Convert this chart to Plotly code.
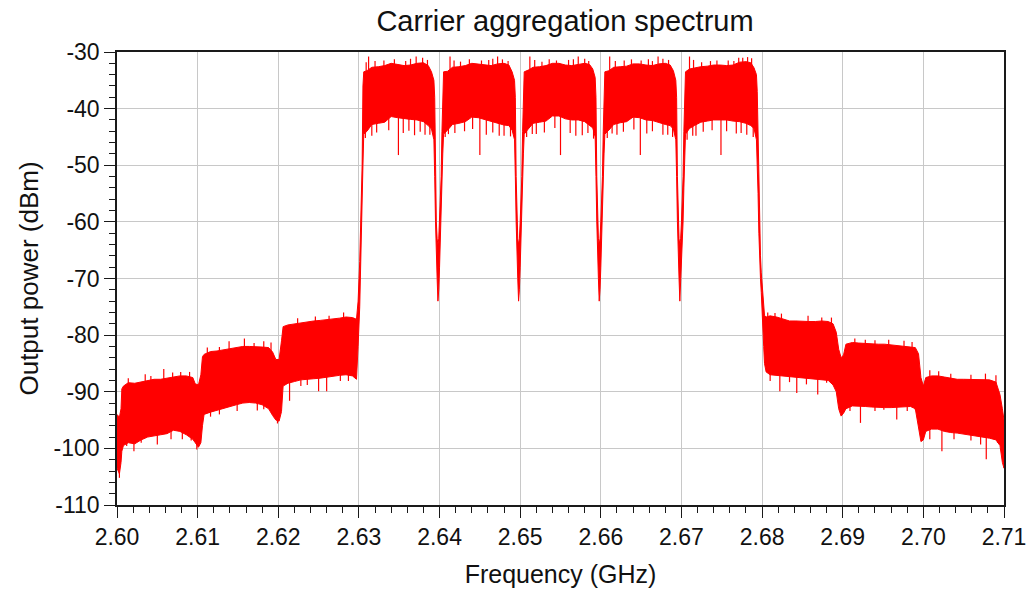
import numpy as np
import plotly.graph_objects as go

# Spectrum envelope: upper (peak) and lower (floor) trace level per frequency knot
freq_ghz = [
    # 2.60 - 2.61 adjacent band
    2.6000, 2.6003, 2.6005, 2.6006, 2.6008, 2.6014, 2.6022, 2.6030, 2.6038, 2.6046, 2.6054,
    2.6062, 2.6070, 2.6078, 2.6086, 2.6094, 2.6097, 2.6101, 2.6104, 2.6106, 2.6108,
    # 2.61 - 2.62
    2.6116, 2.6124, 2.6132, 2.6140, 2.6148, 2.6156, 2.6164, 2.6172, 2.6180, 2.6188,
    2.6193, 2.6197, 2.6201, 2.6204, 2.6206,
    # 2.62 - 2.63 and rising edge
    2.6212, 2.6220, 2.6228, 2.6236, 2.6244, 2.6252, 2.6260, 2.6268, 2.6276, 2.6284,
    2.6292, 2.6297, 2.6299, 2.6301, 2.6303, 2.6304, 2.6305, 2.6306,
    # carrier 1
    2.6310, 2.6316, 2.6324, 2.6332, 2.6340, 2.6348, 2.6356, 2.6364, 2.6372, 2.6380,
    2.6386, 2.6390, 2.6393,
    2.6394, 2.6395, 2.6396, 2.6397, 2.6398, 2.6399, 2.6400, 2.6401, 2.6402, 2.6403, 2.6404, 2.6405,
    # carrier 2
    2.6410, 2.6416, 2.6424, 2.6432, 2.6440, 2.6448, 2.6456, 2.6464, 2.6472, 2.6480,
    2.6486, 2.6490, 2.6493,
    2.6494, 2.6495, 2.6496, 2.6497, 2.6498, 2.6499, 2.6500, 2.6501, 2.6502, 2.6503, 2.6504, 2.6505,
    # carrier 3
    2.6510, 2.6516, 2.6524, 2.6532, 2.6540, 2.6548, 2.6556, 2.6564, 2.6572, 2.6580,
    2.6586, 2.6590, 2.6593,
    2.6594, 2.6595, 2.6596, 2.6597, 2.6598, 2.6599, 2.6600, 2.6601, 2.6602, 2.6603, 2.6604, 2.6605,
    # carrier 4
    2.6610, 2.6616, 2.6624, 2.6632, 2.6640, 2.6648, 2.6656, 2.6664, 2.6672, 2.6680,
    2.6686, 2.6690, 2.6693,
    2.6694, 2.6695, 2.6696, 2.6697, 2.6698, 2.6699, 2.6700, 2.6701, 2.6702, 2.6703, 2.6704, 2.6705,
    # carrier 5 and falling edge
    2.6710, 2.6716, 2.6724, 2.6732, 2.6740, 2.6748, 2.6756, 2.6764, 2.6772, 2.6780,
    2.6786, 2.6790, 2.6793,
    2.6794, 2.6795, 2.6796, 2.6797, 2.6798, 2.6799, 2.6800, 2.6801, 2.6802, 2.6803, 2.6805,
    # 2.68 - 2.69
    2.6810, 2.6818, 2.6826, 2.6834, 2.6842, 2.6850, 2.6858, 2.6866, 2.6874, 2.6882,
    2.6888, 2.6892, 2.6895, 2.6898, 2.6901, 2.6904,
    # 2.69 - 2.70
    2.6912, 2.6920, 2.6928, 2.6936, 2.6944, 2.6952, 2.6960, 2.6968, 2.6976, 2.6984,
    2.6990, 2.6994, 2.6997, 2.7000, 2.7003,
    # 2.70 - 2.71
    2.7010, 2.7018, 2.7026, 2.7034, 2.7042, 2.7050, 2.7058, 2.7066, 2.7074, 2.7082,
    2.7090, 2.7095, 2.7098, 2.7100,
]

peak_dbm = [
    -94.0, -94.5, -93.0, -89.5, -89.0, -88.4, -88.5, -88.3, -88.0, -87.8, -87.8,
    -87.6, -87.3, -87.2, -87.2, -87.5, -88.6, -88.8, -87.0, -83.8, -83.4,
    -82.9, -82.8, -82.6, -82.4, -82.2, -82.0, -82.0, -82.0, -82.1, -82.2,
    -83.0, -84.3, -84.3, -81.0, -78.5,
    -78.2, -78.0, -77.8, -77.6, -77.5, -77.4, -77.3, -77.2, -77.0, -76.8,
    -76.9, -77.2, -74.0, -67.0, -58.0, -50.0, -36.0, -33.5,
    -33.3, -32.7, -32.6, -32.4, -32.0, -32.2, -32.4, -32.3, -32.0, -31.9,
    -32.4, -33.5, -35.0,
    -38.0, -52.0, -60.0, -63.0, -64.0, -63.0, -60.0, -57.0, -52.0, -44.0, -36.0, -33.5,
    -33.4, -32.7, -32.6, -32.4, -32.0, -32.1, -32.3, -32.4, -32.1, -32.0,
    -32.3, -33.5, -35.0,
    -38.0, -52.0, -60.0, -63.0, -64.0, -63.0, -60.0, -57.0, -52.0, -44.0, -36.0, -33.5,
    -33.2, -32.7, -32.6, -32.4, -32.0, -32.0, -32.3, -32.4, -32.2, -32.0,
    -32.2, -33.0, -34.5,
    -38.0, -52.0, -60.0, -63.0, -64.0, -63.0, -60.0, -57.0, -52.0, -44.0, -36.0, -33.5,
    -33.3, -32.7, -32.6, -32.5, -32.1, -32.1, -32.3, -32.4, -32.1, -32.0,
    -32.3, -33.3, -35.0,
    -38.0, -52.0, -60.0, -63.0, -64.0, -63.0, -60.0, -57.0, -52.0, -44.0, -36.0, -33.5,
    -33.0, -32.8, -32.6, -32.5, -32.3, -32.3, -32.4, -32.3, -31.8, -31.7,
    -31.9, -32.8, -34.0,
    -37.0, -45.0, -55.0, -62.0, -66.0, -69.0, -71.0, -73.5, -75.5, -76.5, -76.8,
    -76.6, -76.8, -77.2, -77.5, -77.5, -77.6, -77.6, -77.6, -77.5, -77.6,
    -78.0, -79.5, -82.5, -84.0, -83.5, -81.6,
    -81.3, -81.4, -81.5, -81.6, -81.6, -81.6, -81.7, -81.8, -81.9, -82.0,
    -82.2, -83.3, -87.5, -89.0, -87.5,
    -87.2, -87.2, -87.4, -87.6, -87.8, -87.8, -87.8, -87.8, -87.8, -87.9,
    -88.3, -90.5, -93.0, -95.0,
]

floor_dbm = [
    -103.5, -104.5, -102.5, -100.5, -99.5, -99.0, -99.2, -98.5, -98.0, -97.8, -97.6,
    -97.4, -96.8, -97.0, -97.6, -98.4, -99.0, -99.8, -99.0, -96.0, -94.0,
    -93.6, -93.2, -92.9, -92.6, -92.3, -92.0, -91.9, -92.0, -92.3, -93.0,
    -94.2, -95.0, -95.2, -93.5, -89.0,
    -88.5, -88.2, -87.9, -87.8, -87.7, -87.6, -87.4, -87.3, -87.1, -87.0,
    -87.2, -87.8, -82.0, -75.0, -64.0, -57.0, -50.0, -44.5,
    -44.0, -42.8, -42.6, -42.4, -41.4, -41.6, -41.8, -41.9, -42.0, -42.3,
    -43.0, -43.6, -45.5,
    -52.0, -60.0, -66.0, -70.0, -74.0, -72.0, -68.0, -64.0, -60.0, -54.0, -48.0, -44.5,
    -43.8, -42.8, -42.6, -42.3, -41.5, -41.6, -42.0, -42.2, -42.6, -42.9,
    -43.0, -43.8, -45.5,
    -52.0, -60.0, -66.0, -70.0, -74.0, -72.0, -68.0, -64.0, -60.0, -54.0, -48.0, -44.5,
    -43.6, -42.6, -42.4, -42.2, -41.3, -41.3, -41.8, -42.0, -42.0, -42.3,
    -43.0, -43.4, -45.0,
    -52.0, -60.0, -66.0, -70.0, -74.0, -72.0, -68.0, -64.0, -60.0, -54.0, -48.0, -44.5,
    -43.8, -42.8, -42.5, -42.3, -41.5, -41.6, -42.0, -42.1, -42.5, -42.8,
    -43.0, -43.6, -45.5,
    -52.0, -60.0, -66.0, -70.0, -74.0, -72.0, -68.0, -64.0, -60.0, -54.0, -48.0, -44.5,
    -43.5, -43.0, -42.4, -42.2, -42.0, -42.0, -42.0, -42.2, -42.3, -42.6,
    -43.0, -43.5, -45.5,
    -50.0, -55.0, -62.0, -67.0, -70.0, -72.5, -75.0, -78.0, -82.0, -85.0, -86.5,
    -87.0, -87.2, -87.3, -87.3, -87.4, -87.5, -87.7, -87.8, -87.9, -88.0,
    -88.8, -90.0, -93.0, -94.3, -93.8, -93.0,
    -92.5, -92.5, -92.6, -92.7, -92.8, -92.8, -92.8, -92.8, -92.7, -92.6,
    -93.0, -96.0, -98.8, -98.5, -97.0,
    -96.6, -96.6, -97.0, -97.2, -97.3, -97.4, -97.6, -97.8, -98.0, -98.2,
    -98.5, -99.5, -102.5, -103.5,
]

# Downward spikes reaching below the floor (GHz, dBm)
dip_freq_ghz = [
    2.6003, 2.6012, 2.6021, 2.6030, 2.6050, 2.6067, 2.6081, 2.6092, 2.6099,
    2.6116, 2.6127, 2.6149, 2.6174, 2.6182, 2.6199,
    2.6214, 2.6228, 2.6236, 2.6250, 2.6260, 2.6277, 2.6287,
    2.6308, 2.6316, 2.6322, 2.6337, 2.6349, 2.6355, 2.6362, 2.6369, 2.6376, 2.6382, 2.6388,
    2.6407, 2.6411, 2.6419, 2.6431, 2.6441, 2.6450, 2.6458, 2.6466, 2.6474, 2.6480, 2.6488,
    2.6508, 2.6515, 2.6520, 2.6530, 2.6543, 2.6550, 2.6562, 2.6569, 2.6577, 2.6584, 2.6591,
    2.6608, 2.6614, 2.6620, 2.6628, 2.6641, 2.6649, 2.6657, 2.6664, 2.6677, 2.6683, 2.6689,
    2.6707, 2.6714, 2.6718, 2.6727, 2.6738, 2.6749, 2.6756, 2.6768, 2.6774, 2.6781, 2.6789,
    2.6810, 2.6822, 2.6834, 2.6843, 2.6855, 2.6869, 2.6880,
    2.6909, 2.6922, 2.6940, 2.6951, 2.6967, 2.6980, 2.6990,
    2.7008, 2.7023, 2.7038, 2.7059, 2.7071, 2.7078, 2.7092,
]
dip_dbm = [
    -105.2, -99.6, -100.5, -99.0, -99.3, -98.4, -98.4, -98.6, -100.2,
    -94.4, -94.0, -93.4, -93.3, -93.1, -95.6,
    -91.6, -89.0, -88.8, -89.9, -89.9, -88.1, -88.1,
    -45.2, -44.8, -44.2, -43.8, -48.2, -44.3, -43.9, -44.7, -44.1, -44.6, -44.6,
    -45.0, -44.5, -44.3, -44.0, -43.6, -48.2, -44.6, -44.2, -44.8, -44.8, -44.9,
    -45.0, -44.5, -44.5, -44.2, -43.4, -48.2, -44.3, -44.8, -44.7, -44.3, -45.3,
    -45.2, -44.4, -44.6, -44.1, -43.7, -48.2, -44.4, -44.0, -44.6, -44.6, -45.0,
    -45.5, -44.8, -44.8, -44.1, -43.8, -48.2, -44.0, -44.4, -44.3, -44.6, -45.0,
    -88.1, -89.9, -88.3, -90.2, -88.7, -90.5, -88.4,
    -93.4, -95.5, -93.4, -93.2, -94.9, -93.4, -93.2,
    -98.4, -100.5, -98.4, -98.6, -99.3, -101.9, -99.0,
]

# Upward spikes reaching above the peak envelope (GHz, dBm)
spike_freq_ghz = [
    2.6014, 2.6035, 2.6042, 2.6058, 2.6069, 2.6079, 2.6090,
    2.6112, 2.6127, 2.6139, 2.6158, 2.6170, 2.6182, 2.6191,
    2.6224, 2.6246, 2.6263, 2.6281,
    2.6309, 2.6312, 2.6320, 2.6331, 2.6344, 2.6358, 2.6364, 2.6371, 2.6379, 2.6385,
    2.6413, 2.6418, 2.6426, 2.6437, 2.6452, 2.6461, 2.6466, 2.6472, 2.6478, 2.6485,
    2.6512, 2.6518, 2.6527, 2.6536, 2.6545, 2.6560, 2.6566, 2.6572, 2.6580, 2.6585,
    2.6611, 2.6618, 2.6629, 2.6638, 2.6650, 2.6659, 2.6664, 2.6671, 2.6677, 2.6684,
    2.6710, 2.6715, 2.6725, 2.6736, 2.6744, 2.6758, 2.6765, 2.6771, 2.6776, 2.6782, 2.6787,
    2.6807, 2.6816, 2.6824, 2.6857, 2.6874, 2.6886,
    2.6915, 2.6928, 2.6940, 2.6957, 2.6976, 2.6986,
    2.7008, 2.7019, 2.7034, 2.7059, 2.7077, 2.7090,
]
spike_dbm = [
    -87.6, -86.9, -87.2, -86.0, -86.6, -86.5, -86.5,
    -82.2, -82.1, -81.1, -80.6, -81.4, -81.1, -81.3,
    -77.0, -76.7, -76.6, -76.0,
    -31.8, -30.8, -31.6, -31.5, -31.3, -31.6, -31.2, -30.8, -31.0, -31.4,
    -30.8, -31.5, -31.7, -31.3, -31.5, -31.4, -31.2, -30.8, -31.3, -31.6,
    -30.8, -31.4, -31.7, -31.3, -31.5, -31.4, -31.3, -30.8, -31.2, -31.6,
    -30.8, -31.6, -31.5, -31.3, -31.5, -31.3, -31.6, -30.8, -31.2, -31.4,
    -30.8, -31.4, -31.8, -31.6, -31.5, -31.5, -31.6, -31.0, -31.0, -30.9, -31.1,
    -76.0, -76.1, -76.2, -76.6, -76.9, -76.9,
    -80.6, -80.8, -80.9, -80.8, -81.0, -81.2,
    -86.2, -86.4, -86.8, -87.0, -86.8, -87.1,
]

x_ticks = [2.60, 2.61, 2.62, 2.63, 2.64, 2.65, 2.66, 2.67, 2.68, 2.69, 2.70, 2.71]
y_ticks = [-110, -100, -90, -80, -70, -60, -50, -40, -30]

RED = "#ff0000"
INK = "#111111"
FONT = "Liberation Sans, Arial, sans-serif"

assert len(freq_ghz) == len(peak_dbm) == len(floor_dbm)
assert len(dip_freq_ghz) == len(dip_dbm)
assert len(spike_freq_ghz) == len(spike_dbm)

f = np.array(freq_ghz)
hi = np.array(peak_dbm)
lo = np.array(floor_dbm)

fig = go.Figure()

# Filled band between the floor and the peak of the trace
fig.add_trace(go.Scatter(
    x=np.concatenate([f, f[::-1]]),
    y=np.concatenate([hi, lo[::-1]]),
    mode="lines", fill="toself", fillcolor=RED,
    line=dict(color=RED, width=1), hoverinfo="skip", showlegend=False,
))

# Spikes: vertical strokes from inside the band out to the spike level
sx, sy = [], []
for fx, v in zip(dip_freq_ghz, dip_dbm):
    sx += [fx, fx, None]
    sy += [float(np.interp(fx, f, lo)) + 0.3, v, None]
for fx, v in zip(spike_freq_ghz, spike_dbm):
    sx += [fx, fx, None]
    sy += [float(np.interp(fx, f, hi)) - 0.3, v, None]
fig.add_trace(go.Scatter(x=sx, y=sy, mode="lines", line=dict(color=RED, width=1.2),
                         hoverinfo="skip", showlegend=False))

axis_common = dict(
    showline=True, linecolor="#1a1a1a", linewidth=1.5, mirror=True,
    showgrid=True, gridcolor="#c8c8c8", gridwidth=1.3,
    ticks="outside", ticklen=11, tickwidth=1.3, tickcolor="#1a1a1a",
    tickfont=dict(family=FONT, size=23, color=INK),
    zeroline=False, automargin=False,
)

fig.update_xaxes(
    range=[2.60, 2.71], tickvals=x_ticks, ticktext=[f"{t:.2f}" for t in x_ticks],
    minor=dict(dtick=0.002, tick0=2.60, ticks="outside", ticklen=6, tickwidth=1.3,
               tickcolor="#1a1a1a", showgrid=False),
    title=dict(text="Frequency (GHz)", font=dict(family=FONT, size=25, color=INK), standoff=16),
    **axis_common,
)
fig.update_yaxes(
    range=[-110, -30], tickvals=y_ticks, ticktext=[str(t) for t in y_ticks],
    minor=dict(dtick=2, tick0=-110, ticks="outside", ticklen=6, tickwidth=1.3,
               tickcolor="#1a1a1a", showgrid=False),
    title=dict(text="Output power (dBm)", font=dict(family=FONT, size=26, color=INK), standoff=8),
    **axis_common,
)

fig.update_layout(
    width=1029, height=592,
    margin=dict(l=117, r=25, t=52, b=87),
    paper_bgcolor="white", plot_bgcolor="white",
    title=dict(text="Carrier aggregation spectrum", x=565 / 1029, xanchor="center",
               y=1 - 21 / 592, yanchor="middle", xref="container", yref="container",
               font=dict(family=FONT, size=29, color=INK)),
    showlegend=False,
)

fig.write_html("out.html")
